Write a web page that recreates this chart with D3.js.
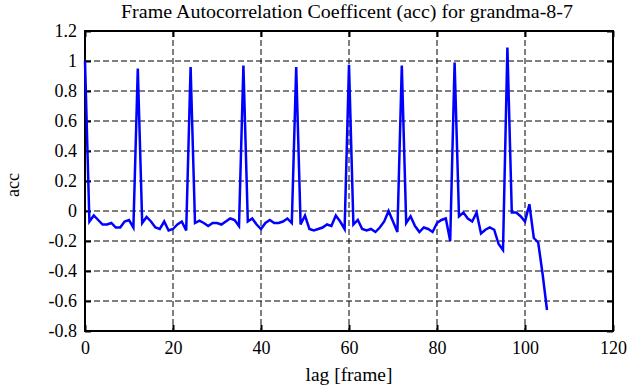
<!DOCTYPE html>
<html>
<head>
<meta charset="utf-8">
<script src="https://cdn.jsdelivr.net/npm/d3@7"></script>
<style>
  body { margin: 0; background: white; }
  svg text { font-family: 'Liberation Serif', 'Times New Roman', Times, 'DejaVu Serif', serif !important; }
</style>
</head>
<body>
<svg id="chart" width="630" height="387"></svg>
<script>
  // autocorrelation per lag
  var acc = [1.0, -0.07, -0.03, -0.06, -0.09, -0.09, -0.08, -0.11, -0.11, -0.07, -0.06, -0.11,
    0.95, -0.08, -0.04, -0.07, -0.11, -0.12, -0.07, -0.13, -0.12, -0.09, -0.07, -0.13,
    0.96, -0.08, -0.065, -0.08, -0.1, -0.08, -0.08, -0.09, -0.07, -0.05, -0.06, -0.1,
    0.97, -0.07, -0.05, -0.09, -0.12, -0.08, -0.06, -0.08, -0.08, -0.07, -0.05, -0.08,
    0.96, -0.09, -0.03, -0.12, -0.13, -0.12, -0.11, -0.09, -0.1, -0.03, -0.07, -0.12,
    0.975, -0.09, -0.06, -0.12, -0.13, -0.12, -0.14, -0.11, -0.07, 0.0, -0.07, -0.14,
    0.97, -0.08, -0.035, -0.1, -0.14, -0.11, -0.12, -0.14, -0.08, -0.06, -0.05, -0.2,
    0.99, -0.035, -0.01, -0.05, -0.07, -0.01, -0.15, -0.125, -0.11, -0.125, -0.22, -0.26,
    1.09, -0.01, -0.01, -0.035, -0.07, 0.045, -0.18, -0.21, -0.42, -0.66]
  var xTicks = [0, 20, 40, 60, 80, 100, 120]
  var yTicks = [-0.8, -0.6, -0.4, -0.2, 0, 0.2, 0.4, 0.6, 0.8, 1, 1.2]

  var svg = d3.select('#chart')
  var margin = {top: 31, right: 17, bottom: 56, left: 85}
  var width = 630 - margin.left - margin.right
  var height = 387 - margin.top - margin.bottom

  var x = d3.scaleLinear().domain([0, 120]).range([0, width])
  var y = d3.scaleLinear().domain([-0.8, 1.2]).range([height, 0])

  var g = svg.append('g').attr('transform', 'translate(' + margin.left + ',' + margin.top + ')')

  // dashed grid
  g.selectAll('.vgrid').data(xTicks.slice(1, -1)).enter().append('line')
    .attr('x1', function(d){ return x(d) }).attr('x2', function(d){ return x(d) })
    .attr('y1', 0).attr('y2', height)
    .attr('stroke', 'black').attr('stroke-width', 1).attr('stroke-dasharray', '6,3')
  g.selectAll('.hgrid').data(yTicks.slice(1, -1)).enter().append('line')
    .attr('y1', function(d){ return y(d) }).attr('y2', function(d){ return y(d) })
    .attr('x1', 0).attr('x2', width)
    .attr('stroke', 'black').attr('stroke-width', 1).attr('stroke-dasharray', '6,3')

  // axes with inward ticks
  var fmt = function(d){ return String(Math.round(d * 10) / 10) }
  var axes = [
    g.append('g').attr('transform', 'translate(0,' + height + ')')
      .call(d3.axisBottom(x).tickValues(xTicks).tickSizeInner(-6).tickSizeOuter(0).tickPadding(10)),
    g.append('g')
      .call(d3.axisTop(x).tickValues(xTicks).tickSizeInner(-6).tickSizeOuter(0).tickFormat('')),
    g.append('g')
      .call(d3.axisLeft(y).tickValues(yTicks).tickSizeInner(-6).tickSizeOuter(0).tickPadding(8).tickFormat(fmt)),
    g.append('g').attr('transform', 'translate(' + width + ',0)')
      .call(d3.axisRight(y).tickValues(yTicks).tickSizeInner(-6).tickSizeOuter(0).tickFormat(''))
  ]
  axes.forEach(function(a){
    a.attr('font-family', null).attr('font-size', null)
    a.selectAll('.domain').remove()
    a.selectAll('line').attr('stroke', 'black').attr('stroke-width', 2)
    a.selectAll('text').attr('fill', 'black').style('font-size', '18px')
  })

  g.append('rect').attr('x', 0).attr('y', 0).attr('width', width).attr('height', height)
    .attr('fill', 'none').attr('stroke', 'black').attr('stroke-width', 2)

  g.append('path')
    .datum(acc)
    .attr('fill', 'none')
    .attr('stroke', '#0000ff')
    .attr('stroke-width', 2.5)
    .attr('d', d3.line()
      .x(function(d, i){ return x(i) })
      .y(function(d){ return y(d) }))

  svg.append('text')
    .attr('x', 347).attr('y', 18)
    .attr('text-anchor', 'middle')
    .attr('textLength', 452).attr('lengthAdjust', 'spacingAndGlyphs')
    .style('font-size', '18px')
    .text('Frame Autocorrelation Coefficent (acc) for grandma-8-7')

  svg.append('text')
    .attr('x', margin.left + width / 2).attr('y', 381)
    .attr('text-anchor', 'middle')
    .attr('textLength', 87).attr('lengthAdjust', 'spacingAndGlyphs')
    .style('font-size', '18px')
    .text('lag [frame]')

  svg.append('text')
    .attr('transform', 'translate(19,' + (margin.top + height / 2 + 4) + ') rotate(-90)')
    .attr('text-anchor', 'middle')
    .style('font-size', '18px')
    .text('acc')
</script>
</body>
</html>
